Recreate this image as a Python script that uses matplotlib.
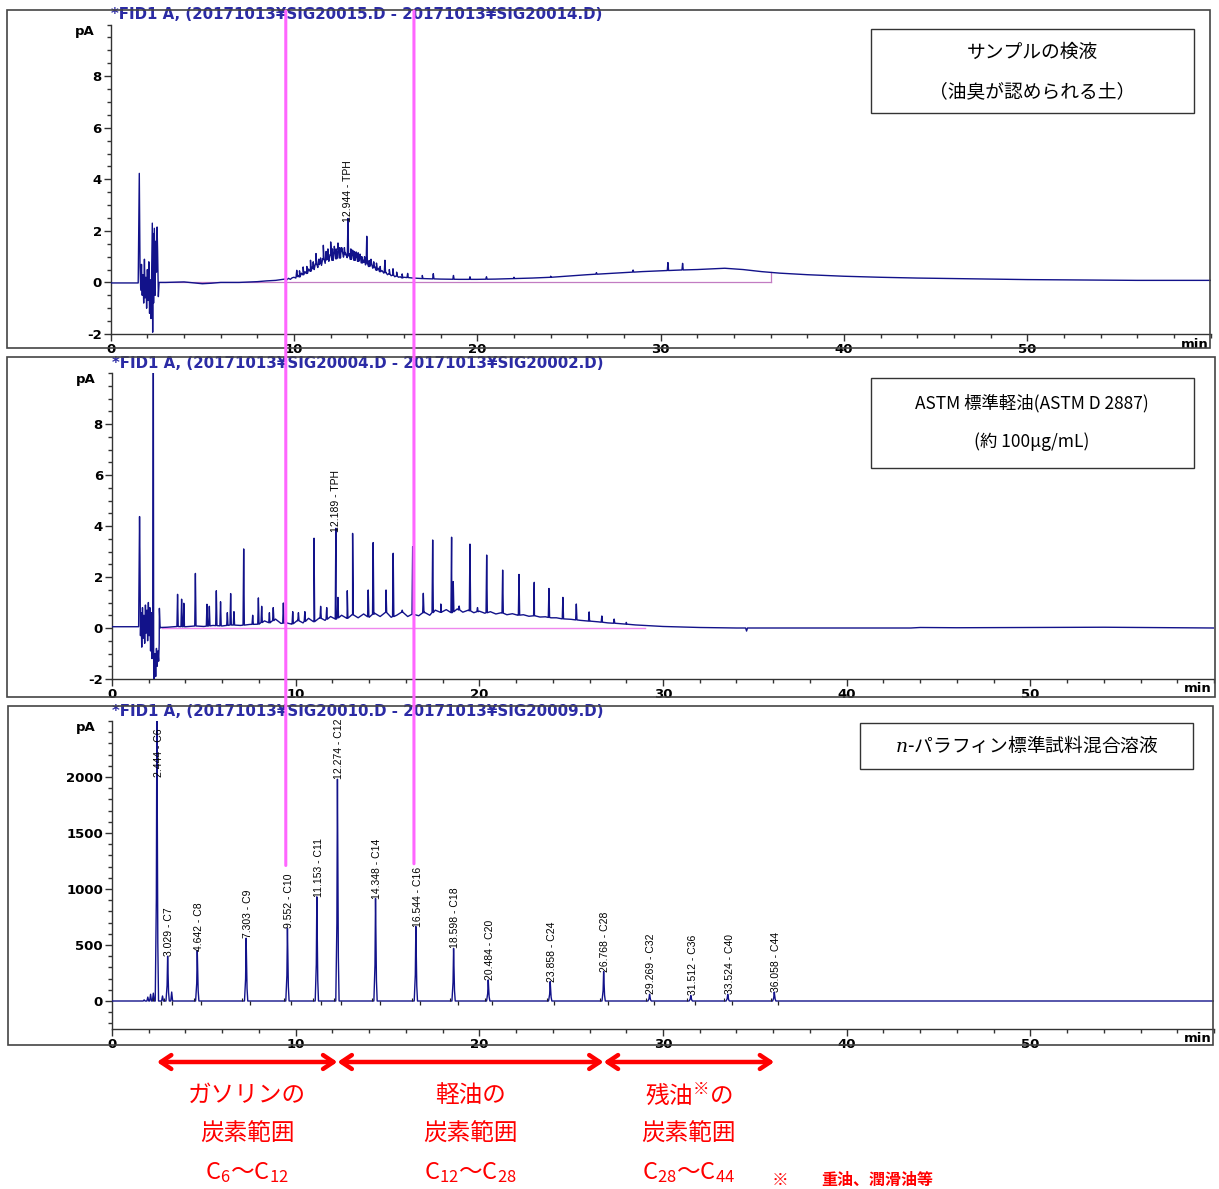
import numpy as np
import matplotlib
matplotlib.use('Agg')
import matplotlib.pyplot as plt
from matplotlib.patches import Rectangle, ConnectionPatch
from matplotlib.transforms import blended_transform_factory as blend

# ---------------- data ----------------
# Panel 1: sample extract (soil with oil odour) - baseline/hump trace (min, pA)
p1_base_t = [0, 1.5, 1.56, 1.60, 1.64, 1.68, 1.72, 1.76, 1.80, 1.84, 1.88, 1.92, 1.96, 2.00, 2.04, 2.08,
             2.12, 2.16, 2.20, 2.24, 2.27, 2.29, 2.31, 2.34, 2.38, 2.42, 2.46, 2.50, 2.53, 2.56, 2.60, 2.64,
             3, 4, 5, 5.5, 6, 7, 8, 8.5, 9,
             9.5, 9.6, 9.7, 9.8, 9.9, 10.0, 10.1, 10.2, 10.3, 10.4, 10.5, 10.6, 10.7, 10.8, 10.9, 11.0,
             11.1, 11.2, 11.3, 11.4, 11.5, 11.6, 11.7, 11.8, 11.9, 12.0, 12.1, 12.2, 12.3, 12.4, 12.5,
             12.6, 12.7, 12.8, 12.9, 13.0, 13.1, 13.2, 13.3, 13.4, 13.5, 13.6, 13.7, 13.8, 13.9, 14.0,
             14.1, 14.2, 14.3, 14.4, 14.5, 14.6, 14.7, 14.8, 14.9, 15.0, 15.1, 15.2, 15.3, 15.4, 15.5,
             15.6, 15.7, 15.8, 15.9, 16.0, 16.5, 17, 18, 19, 20, 21, 22, 23, 24, 25, 26, 27, 28, 29,
             30, 31, 32, 33.5, 34.5, 35.5, 36.5, 38, 40, 42, 44, 46, 48, 50, 52, 54, 56, 58, 60]
p1_base_v = [-0.02, -0.02, 4.23, 0.6, -0.3, 0.7, -0.5, 0.3, -0.8, 0.9, -0.6, 0.2, -1.0, 0.5, -0.7, 0.8,
             -1.2, 0.1, -1.4, 0.6, 2.3, -1.93, 1.9, -0.8, 2.1, -0.5, 1.6, 0.4, 2.15, 1.2, -0.55, 0.0,
             0.0, 0.02, -0.05, -0.03, 0.0, 0.0, 0.03, 0.06, 0.08,
             0.13, 0.10, 0.16, 0.12, 0.18, 0.20, 0.17, 0.28, 0.22, 0.36, 0.30, 0.42, 0.35, 0.52, 0.44, 0.60,
             0.50, 0.72, 0.58, 0.80, 0.66, 0.92, 0.74, 1.00, 0.82, 1.08, 0.86, 1.15, 0.92, 1.18, 0.95,
             1.22, 0.98, 1.16, 0.96, 1.12, 0.90, 1.06, 0.86, 1.00, 0.82, 0.94, 0.76, 0.86, 0.68, 0.78,
             0.62, 0.70, 0.55, 0.62, 0.48, 0.55, 0.42, 0.46, 0.36, 0.40, 0.30, 0.33, 0.26, 0.28, 0.22,
             0.25, 0.20, 0.22, 0.18, 0.20, 0.17, 0.15, 0.13, 0.12, 0.12, 0.13, 0.15, 0.17, 0.20, 0.25,
             0.30, 0.34, 0.38, 0.42,
             0.45, 0.48, 0.50, 0.55, 0.50, 0.42, 0.36, 0.30, 0.24, 0.20, 0.17, 0.15, 0.13, 0.11, 0.10,
             0.09, 0.08, 0.08, 0.08]
p1_spike_t = [10.15, 10.3, 10.5, 10.7, 10.9, 11.05, 11.2, 11.35, 11.45, 11.6, 11.75, 11.85, 12.0, 12.1,
              12.2, 12.3, 12.4, 12.5, 12.6, 12.75, 12.944, 13.1, 13.2, 13.3, 13.4, 13.5, 13.6, 13.7,
              13.85, 13.97, 14.1, 14.2, 14.35, 14.5, 14.7, 14.96, 15.2, 15.4, 15.6, 15.9, 16.2, 17.0,
              17.6, 18.7, 19.6, 20.5, 22.0, 24.0, 26.5, 28.5, 30.4, 31.2]
p1_spike_v = [0.47, 0.45, 0.6, 0.62, 0.86, 0.8, 1.12, 0.9, 0.95, 1.44, 1.2, 1.3, 1.57, 1.3,
              1.4, 1.3, 1.53, 1.35, 1.35, 1.35, 2.48, 1.3, 1.25, 1.2, 1.18, 1.15, 1.1, 1.0,
              1.0, 1.79, 0.85, 0.9, 0.8, 0.75, 0.62, 0.86, 0.5, 0.53, 0.4, 0.33, 0.35, 0.27,
              0.34, 0.27, 0.22, 0.22, 0.2, 0.24, 0.38, 0.48, 0.77, 0.74]
p1_tph = (12.944, '12.944 - TPH')
p1_integration = (2.7, 36.0)

# Panel 2: ASTM reference diesel
p2_base_t = [0, 1.45, 1.50, 1.52, 1.55, 1.58, 1.62, 1.66, 1.70, 1.74, 1.78, 1.82, 1.86, 1.90, 1.94, 1.98,
             2.02, 2.06, 2.10, 2.14, 2.18, 2.22, 2.25, 2.27, 2.30, 2.34, 2.38, 2.42, 2.46, 2.50, 2.54,
             2.57, 2.58, 2.62, 2.66,
             3, 3.5, 4, 4.5, 5, 5.5, 6, 6.5, 7, 7.5, 8, 8.3, 8.6, 8.9, 9.2, 9.5, 9.8, 10.1, 10.4, 10.7,
             11.0, 11.3, 11.6, 11.9, 12.2, 12.5, 12.8, 13.1, 13.4, 13.7, 14.0, 14.3, 14.6, 14.9, 15.2,
             15.5, 15.8, 16.1, 16.4, 16.7, 17.0, 17.3, 17.6, 17.9, 18.2, 18.5, 18.8, 19.1, 19.4, 19.7,
             20.0, 20.3, 20.6, 20.9, 21.2, 21.5, 21.8, 22.1, 22.4, 22.7, 23.0, 23.3, 23.6, 23.9, 24.2,
             24.5, 25, 25.5, 26, 26.5, 27, 27.5, 28, 28.5, 29, 29.5, 30, 31, 32, 33, 34, 34.5, 34.55,
             34.6, 36, 40, 43.5, 44, 46, 50, 54, 58, 60]
p2_base_v = [0.05, 0.05, 4.37, 2.9, -0.3, 0.6, -0.75, 0.8, -0.4, 0.5, -0.6, 0.9, -0.2, 0.7, -0.5, 1.0,
             -0.3, 0.8, -0.9, 0.6, -1.2, 0.2, 10.5, -1.8, -2.1, -1.0, -1.9, -0.8, -1.5, -0.9, -1.3,
             -0.6, 0.77, 0.0, 0.02,
             0.03, 0.06, 0.05, 0.08, 0.06, 0.10, 0.08, 0.12, 0.10, 0.14, 0.15, 0.28, 0.20, 0.35, 0.18,
             0.20, 0.15, 0.30, 0.20, 0.38,
             0.25, 0.40, 0.30, 0.45, 0.35, 0.50, 0.38, 0.52, 0.40, 0.55, 0.42, 0.58, 0.45, 0.62, 0.42,
             0.50, 0.62, 0.45, 0.55, 0.48, 0.62, 0.50, 0.70, 0.62, 0.72, 0.60, 0.75, 0.62, 0.70, 0.60,
             0.66, 0.58, 0.64, 0.55, 0.60, 0.52, 0.56, 0.50, 0.52, 0.46, 0.48, 0.43, 0.44, 0.40, 0.40,
             0.36, 0.34, 0.30, 0.27, 0.24, 0.20, 0.18, 0.15, 0.12, 0.10, 0.08, 0.06, 0.04, 0.02, 0.01,
             0.0, 0.0, -0.12,
             0.0, 0.0, 0.0, 0.0, 0.02, 0.01, 0.02, 0.03, 0.01, 0.0]
p2_spike_t = [3.57, 3.79, 3.91, 4.54, 5.17, 5.30, 5.68, 5.91, 6.28, 6.46, 6.64, 7.17, 7.66, 7.97, 8.15,
              8.57, 8.78, 9.33, 9.84, 10.15, 10.5, 11.0, 11.36, 11.69, 12.189, 12.30, 12.81, 13.1,
              13.95, 14.22, 14.92, 15.31, 15.8, 16.37, 16.95, 17.46, 17.9, 18.49, 18.58, 18.9, 19.49,
              19.9, 20.40, 21.27, 22.16, 22.99, 23.79, 24.55, 25.28, 25.98, 26.67, 27.34, 28.0]
p2_spike_v = [1.32, 1.13, 0.97, 2.14, 0.93, 0.85, 1.46, 1.03, 0.6, 1.35, 0.64, 3.10, 0.5, 1.18, 0.85,
              0.6, 0.8, 0.98, 0.64, 0.6, 0.64, 3.52, 0.85, 0.8, 3.91, 1.2, 1.46, 3.71,
              1.49, 3.35, 1.49, 2.93, 0.7, 3.19, 1.36, 3.45, 0.94, 3.56, 1.82, 0.86, 3.29,
              0.8, 2.86, 2.27, 2.1, 1.79, 1.55, 1.2, 0.94, 0.63, 0.47, 0.35, 0.22]
p2_tph = (12.189, '12.189 - TPH')
p2_integration = (2.7, 29.0)

# Panel 3: n-paraffin standard mixture
np_rt = [2.444, 3.029, 4.642, 7.303, 9.552, 11.153, 12.274, 14.348, 16.544, 18.598, 20.484,
         23.858, 26.768, 29.269, 31.512, 33.524, 36.058]
np_names = ['C6', 'C7', 'C8', 'C9', 'C10', 'C11', 'C12', 'C14', 'C16', 'C18', 'C20',
            'C24', 'C28', 'C32', 'C36', 'C40', 'C44']
np_height = [2600, 400, 450, 560, 650, 930, 1980, 915, 665, 470, 188, 173, 263, 60, 50, 60, 80]
np_minor_rt = [1.75, 1.95, 2.10, 2.25, 2.75, 3.25]
np_minor_h = [10, 35, 60, 70, 45, 80]

# carbon ranges (by n-paraffin marker)
ranges = [('C6', 'C12', ['ガソリンの', '炭素範囲', 'C$_{6}$～C$_{12}$']),
          ('C12', 'C28', ['軽油の', '炭素範囲', 'C$_{12}$～C$_{28}$']),
          ('C28', 'C44', ['残油$^{※}$の', '炭素範囲', 'C$_{28}$～C$_{44}$'])]
marker_lines = ['C10', 'C16']

titles = ['*FID1 A, (20171013¥SIG20015.D - 20171013¥SIG20014.D)',
          '*FID1 A, (20171013¥SIG20004.D - 20171013¥SIG20002.D)',
          '*FID1 A, (20171013¥SIG20010.D - 20171013¥SIG20009.D)']
box_texts = [['サンプルの検液', '（油臭が認められる土）'],
             ['ASTM 標準軽油(ASTM D 2887)', '(約 100μg/mL)'],
             ['$\\it{n}$-パラフィン標準試料混合溶液']]

# ---------------- style ----------------
plt.rcParams['font.family'] = ['DejaVu Sans']
plt.rcParams['mathtext.fontset'] = 'custom'
plt.rcParams['mathtext.rm'] = 'Noto Sans CJK JP'
plt.rcParams['mathtext.it'] = 'DejaVu Serif:italic'
plt.rcParams['mathtext.bf'] = 'Noto Sans CJK JP:bold'

CJK = ['Noto Sans CJK JP', 'DejaVu Sans']
NARROW = ['Liberation Sans', 'DejaVu Sans']
TRACE = '#12128a'
PINK = '#ff66ff'
W, H = 1219, 1189
fig = plt.figure(figsize=(W / 100, H / 100), dpi=100)


def px_axes(left, right, top, bottom):
    return fig.add_axes([left / W, 1 - bottom / H, (right - left) / W, (bottom - top) / H])


def frame(x0, x1, y0, y1, lw=1.2, ec='#444444'):
    fig.add_artist(Rectangle((x0 / W, 1 - y1 / H), (x1 - x0) / W, (y1 - y0) / H,
                             transform=fig.transFigure, fill=False, ec=ec, lw=lw))


def style_axes(ax, ylim, major, minor, labels):
    ax.set_xlim(0, 60)
    ax.set_ylim(*ylim)
    ax.patch.set_alpha(0)
    for s in ['top', 'right']:
        ax.spines[s].set_visible(False)
    for s in ['left', 'bottom']:
        ax.spines[s].set_color('#333333')
        ax.spines[s].set_linewidth(1.0)
    ax.set_xticks([0, 10, 20, 30, 40, 50])
    ax.set_xticklabels(['0', '10', '20', '30', '40', '50'], fontweight='bold', fontsize=9.5)
    ax.set_xticks(np.arange(0, 61, 2), minor=True)
    ax.set_yticks(major)
    ax.set_yticklabels(labels, fontweight='bold', fontsize=9.5)
    ax.set_yticks(minor, minor=True)
    ax.tick_params(which='major', direction='out', length=5, width=1, color='#333333', pad=1.5)
    ax.tick_params(which='minor', direction='out', length=3, width=1, color='#333333')
    ax.annotate('pA', xy=(0, 1), xycoords='axes fraction', xytext=(-26, -7),
                textcoords='offset pixels', ha='center', va='center', fontweight='bold', fontsize=9.5)
    ax.annotate('min', xy=(1, 0), xycoords='axes fraction', xytext=(-16, -10),
                textcoords='offset pixels', ha='center', va='center', fontweight='bold', fontsize=9.5)


def build_trace(bt, bv, st, sv, w=0.035):
    bt = np.asarray(bt, float)
    bv = np.asarray(bv, float)
    pts = list(zip(bt, bv))
    for t, v in zip(st, sv):
        b = float(np.interp(t, bt, bv))
        pts += [(t - w, b), (t, v), (t + w, b)]
    pts.sort(key=lambda p: p[0])
    return [p[0] for p in pts], [p[1] for p in pts]


# frames
frame(7, 1210, 10, 348)
frame(7, 1215, 357, 697)
frame(8, 1213, 706, 1045)

ax1 = px_axes(110.7, 1210.5, 24.6, 334)
ax2 = px_axes(112, 1214, 373, 679)
ax3 = px_axes(112, 1214, 721, 1029)

yl = ['-2', '0', '2', '4', '6', '8']
style_axes(ax1, (-2, 10), [-2, 0, 2, 4, 6, 8], np.arange(-2, 10.01, 0.5), yl)
style_axes(ax2, (-2, 10), [-2, 0, 2, 4, 6, 8], np.arange(-2, 10.01, 0.5), yl)
style_axes(ax3, (-250, 2500), [0, 500, 1000, 1500, 2000], np.arange(-200, 2501, 100),
           ['0', '500', '1000', '1500', '2000'])

# panel 1
tx, ty = build_trace(p1_base_t, p1_base_v, p1_spike_t, p1_spike_v)
ax1.plot(p1_integration, [0, 0], color='#c27cc2', lw=0.9, zorder=2)
ax1.plot([p1_integration[1]] * 2, [0, np.interp(p1_integration[1], p1_base_t, p1_base_v)],
         color='#c27cc2', lw=0.9, zorder=2)
ax1.plot(tx, ty, color=TRACE, lw=1.0, zorder=3, clip_on=True)
ax1.text(p1_tph[0], max(p1_spike_v) - 0.15, p1_tph[1], rotation=90, ha='center', va='bottom',
         fontsize=7.5, family=NARROW)

# panel 2
tx, ty = build_trace(p2_base_t, p2_base_v, p2_spike_t, p2_spike_v)
ax2.plot(p2_integration, [0, 0], color='#ee88ee', lw=1.0, zorder=2)
ax2.plot(tx, ty, color=TRACE, lw=1.0, zorder=3)
ax2.text(p2_tph[0], max(p2_spike_v) - 0.15, p2_tph[1], rotation=90, ha='center', va='bottom',
         fontsize=7.5, family=NARROW)

# panel 3
pts = [(0.0, 0.0), (60.0, 0.0)]
for t, h in zip(np_minor_rt, np_minor_h):
    pts += [(t - 0.05, 0), (t, h), (t + 0.05, 0)]
for t, h in zip(np_rt, np_height):
    pts += [(t - 0.09, 0), (t - 0.03, h * 0.35), (t, h), (t + 0.05, h * 0.2), (t + 0.09, 0)]
pts.sort(key=lambda p: p[0])
ax3.plot([p[0] for p in pts], [p[1] for p in pts], color=TRACE, lw=1.0, zorder=3)
ax3.vlines(np.array(np_rt) + 0.22, -38, 0, color='#222222', lw=0.9, zorder=3)
ax3.vlines(np.array(np_rt) - 0.2, 0, 25, color='#222222', lw=0.8, zorder=3)
for t, h, n in zip(np_rt, np_height, np_names):
    ax3.text(t + 0.1, min(h, 2000), f'{t:.3f} - {n}', rotation=90, ha='center', va='bottom',
             fontsize=7.5, family=NARROW, zorder=4)

# titles
for ax, ttl in zip([ax1, ax2, ax3], titles):
    ax.annotate(ttl, xy=(0, 1), xycoords='axes fraction', xytext=(0, 10), textcoords='offset pixels',
                ha='left', va='center', fontsize=10.8, fontweight='bold', color='#2b2ba5')

# boxes
frame(871, 1194, 29, 113, lw=1.0, ec='#333333')
fig.text(1032 / W, 1 - 52 / H, box_texts[0][0], ha='center', va='center', fontsize=13.5, family=CJK)
fig.text(1032 / W, 1 - 92 / H, box_texts[0][1], ha='center', va='center', fontsize=13.5, family=CJK)
frame(871, 1194, 378, 468, lw=1.0, ec='#333333')
fig.text(1032 / W, 1 - 403 / H, box_texts[1][0], ha='center', va='center', fontsize=12.5, family=CJK)
fig.text(1032 / W, 1 - 442 / H, box_texts[1][1], ha='center', va='center', fontsize=12.5, family=CJK)
frame(860, 1193, 723, 769, lw=1.0, ec='#333333')
fig.text(1027 / W, 1 - 746 / H, box_texts[2][0], ha='center', va='center', fontsize=13.5, family=CJK)

# pink marker lines through all panels
rt_of = dict(zip(np_names, np_rt))
h_of = dict(zip(np_names, np_height))
for name in marker_lines:
    t = rt_of[name]
    con = ConnectionPatch(xyA=(t, h_of[name] + 560), coordsA=blend(ax1.transData, ax3.transData),
                          xyB=(t, 1 - 11 / H), coordsB=blend(ax1.transData, fig.transFigure),
                          color=PINK, lw=2.2, zorder=10)
    fig.add_artist(con)

# carbon range arrows and labels
tr = blend(ax3.transData, fig.transFigure)
line_y = [1095, 1134, 1173]
for a, b, lines in ranges:
    ta, tb = rt_of[a], rt_of[b]
    ax3.annotate('', xy=(tb, 1 - 1062 / H), xycoords=tr, xytext=(ta, 1 - 1062 / H), textcoords=tr,
                 arrowprops=dict(arrowstyle='<->,head_length=0.75,head_width=0.5', color='red',
                                 lw=3.2, shrinkA=0, shrinkB=0),
                 annotation_clip=False)
    for txt, yy in zip(lines, line_y):
        ax3.text((ta + tb) / 2, 1 - yy / H, txt, transform=tr, ha='center', va='center',
                 fontsize=17, color='red', family=CJK, clip_on=False)
fig.text(780 / W, 1 - 1180 / H, '※', ha='center', va='center', fontsize=12, color='red', family=CJK)
fig.text(821 / W, 1 - 1180 / H, '重油、潤滑油等', ha='left', va='center', fontsize=11.5, color='red',
         family=CJK, fontweight='bold')

fig.savefig('out.png', dpi=100)
